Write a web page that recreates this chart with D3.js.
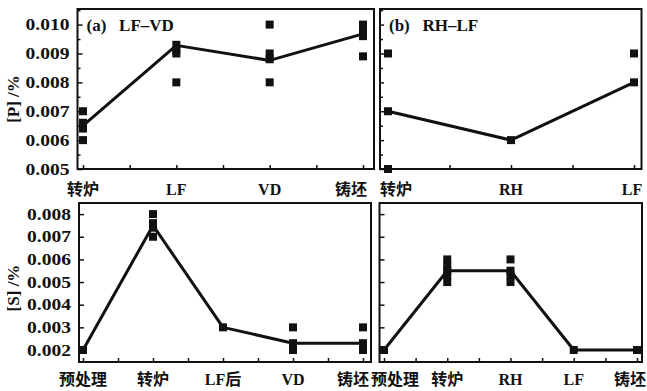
<!DOCTYPE html>
<html>
<head>
<meta charset="utf-8">
<script src="https://cdn.jsdelivr.net/npm/d3@7"></script>
<style>
  body { margin: 0; background: #fff; }
  text { font-family: "Liberation Serif", "Noto Sans CJK SC", serif; font-weight: bold; fill: #111; }
</style>
</head>
<body>
<div id="chart"></div>
<script>
// ---- data ----
const stagesA = ["转炉", "LF", "VD", "铸坯"];
const pMeanA = [0.0065, 0.00928, 0.00876, 0.00968];
const pDotsA = [
    [0.007, 0.0066, 0.0064, 0.006],
    [0.0093, 0.0091, 0.009, 0.008],
    [0.010, 0.009, 0.0088, 0.008],
    [0.010, 0.0098, 0.0096, 0.0089]
];

const stagesB = ["转炉", "RH", "LF"];
const pMeanB = [0.007, 0.006, 0.008];
const pDotsB = [
    [0.009, 0.007, 0.005],
    [0.006],
    [0.009, 0.008]
];

const stagesC = ["预处理", "转炉", "LF后", "VD", "铸坯"];
const sMeanC = [0.002, 0.0075, 0.003, 0.0023, 0.0023];
const sDotsC = [
    [0.002],
    [0.008, 0.0076, 0.0074, 0.007],
    [0.003],
    [0.003, 0.0023, 0.002],
    [0.003, 0.0023, 0.002]
];

const stagesD = ["预处理", "转炉", "RH", "LF", "铸坯"];
const sMeanD = [0.002, 0.0055, 0.0055, 0.002, 0.002];
const sDotsD = [
    [0.002],
    [0.006, 0.0057, 0.0055, 0.0053, 0.005],
    [0.006, 0.0055, 0.0053, 0.005],
    [0.002],
    [0.002]
];

const pTicks = [0.005, 0.006, 0.007, 0.008, 0.009, 0.010];
const pMinor = [0.0055, 0.0065, 0.0075, 0.0085, 0.0095, 0.0105];
const sTicks = [0.002, 0.003, 0.004, 0.005, 0.006, 0.007, 0.008];

const svg = d3.select("#chart").append("svg")
    .attr("width", 647)
    .attr("height", 391);

const drawPanel = (p) => {
    let g = svg.append("g");
    let x = d3.scaleLinear().domain([0, p.stages.length - 1]).range(p.xr);
    let y = d3.scaleLinear().domain(p.yd).range([p.box[3], p.box[1]]);

    // y ticks (inside)
    g.append("g")
        .attr("transform", `translate(${p.box[0]},0)`)
        .call(d3.axisRight(y).tickValues(p.major).tickSize(p.majorLen).tickFormat(""))
        .call(a => a.select(".domain").remove())
        .selectAll("line").attr("stroke", "#111").attr("stroke-width", 1.5);
    if (p.minor) {
        g.append("g")
            .attr("transform", `translate(${p.box[0]},0)`)
            .call(d3.axisRight(y).tickValues(p.minor).tickSize(3).tickFormat(""))
            .call(a => a.select(".domain").remove())
            .selectAll("line").attr("stroke", "#111").attr("stroke-width", 1.5);
    }
    // y labels
    if (p.labels) {
        let yl = g.append("g")
            .attr("transform", `translate(${p.box[0]},0)`)
            .call(d3.axisLeft(y).tickValues(p.major).tickSize(0).tickPadding(8).tickFormat(d3.format(".3f")))
            .call(a => a.select(".domain").remove());
        yl.selectAll("text")
            .attr("font-size", 16)
            .attr("font-family", null)
            .attr("fill", "#111")
            .each(function() {
                let w = this.getComputedTextLength();
                d3.select(this).attr("textLength", w * 1.22).attr("lengthAdjust", "spacingAndGlyphs");
            });
    }

    // x ticks (inside) at stages and half steps
    let half = d3.range(0, p.stages.length - 0.99, 0.5);
    g.append("g")
        .attr("transform", `translate(0,${p.box[3]})`)
        .call(d3.axisTop(x).tickValues(half).tickSize(4).tickFormat(""))
        .call(a => a.select(".domain").remove())
        .selectAll("line").attr("stroke", "#111").attr("stroke-width", 1.5);

    // x labels (end labels nudged away from the neighbouring panel)
    g.selectAll(".xl")
        .data(p.stages)
        .enter()
        .append("text")
        .attr("x", (d, i) => x(i) + (p.nudge[i] || 0))
        .attr("y", p.box[3] + p.labelGap)
        .attr("text-anchor", "middle")
        .attr("font-size", 16)
        .text(d => d);

    // frame
    g.append("rect")
        .attr("x", p.box[0])
        .attr("y", p.box[1])
        .attr("width", p.box[2] - p.box[0])
        .attr("height", p.box[3] - p.box[1])
        .attr("fill", "none")
        .attr("stroke", "#111")
        .attr("stroke-width", 2);

    // mean line
    let line = d3.line().x((d, i) => x(i)).y(d => y(d));
    g.append("path")
        .attr("d", line(p.mean))
        .attr("fill", "none")
        .attr("stroke", "#111")
        .attr("stroke-width", 3)
        .attr("stroke-linejoin", "round");

    // samples
    let pts = [];
    p.dots.forEach((arr, i) => arr.forEach(v => pts.push([i, v])));
    g.selectAll(".dot")
        .data(pts)
        .enter()
        .append("rect")
        .attr("x", d => x(d[0]) - 4)
        .attr("y", d => y(d[1]) - 4)
        .attr("width", 8)
        .attr("height", 8)
        .attr("fill", "#111");

    if (p.title) {
        g.append("text")
            .attr("x", p.box[0] + 9)
            .attr("y", p.box[1] + 22)
            .attr("font-size", 17)
            .style("white-space", "pre")
            .text(p.title);
    }
}

drawPanel({box: [77.5, 9, 374, 169], xr: [83, 363], yd: [0.005, 0.01054],
    stages: stagesA, mean: pMeanA, dots: pDotsA, nudge: [0, 0, 0, -12], labelGap: 26,
    major: pTicks, minor: pMinor, majorLen: 5, labels: true, title: "(a)   LF–VD"});
drawPanel({box: [380, 9, 641.5, 169], xr: [388, 634], yd: [0.005, 0.01054],
    stages: stagesB, mean: pMeanB, dots: pDotsB, nudge: [8, 0, -2], labelGap: 26,
    major: pTicks, minor: pMinor, majorLen: 4, labels: false, title: "(b)   RH–LF"});
drawPanel({box: [79, 203, 371, 362], xr: [83, 363], yd: [0.00147, 0.00849],
    stages: stagesC, mean: sMeanC, dots: sDotsC, nudge: [0, 0, 0, 0, -10], labelGap: 23,
    major: sTicks, minor: null, majorLen: 5, labels: true});
drawPanel({box: [379.5, 203, 642, 362], xr: [384, 637], yd: [0.00147, 0.00849],
    stages: stagesD, mean: sMeanD, dots: sDotsD, nudge: [11, 0, 0, 0, -7], labelGap: 23,
    major: sTicks, minor: null, majorLen: 5, labels: false});

// y axis titles
svg.append("text")
    .attr("transform", "translate(19,99) rotate(-90)")
    .attr("text-anchor", "middle")
    .attr("font-size", 17)
    .style("white-space", "pre")
    .text("[P] /%");
svg.append("text")
    .attr("transform", "translate(19,288) rotate(-90)")
    .attr("text-anchor", "middle")
    .attr("font-size", 17)
    .style("white-space", "pre")
    .text("[S] /%");
</script>
</body>
</html>
